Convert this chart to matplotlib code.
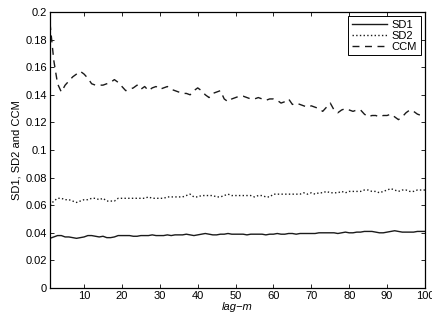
import matplotlib
matplotlib.use("Agg")
import matplotlib.pyplot as plt
import numpy as np

lag = list(range(1, 101))

sd1 = [0.036, 0.037, 0.038, 0.038, 0.037, 0.037, 0.0365, 0.036, 0.0365, 0.037,
       0.038, 0.038, 0.0375, 0.037, 0.0375, 0.0365, 0.0365, 0.037, 0.038, 0.038,
       0.038, 0.038, 0.0375, 0.0375, 0.038, 0.038, 0.038, 0.0385, 0.038, 0.038,
       0.038, 0.0385, 0.038, 0.0385, 0.0385, 0.0385, 0.039, 0.0385, 0.038, 0.0385,
       0.039, 0.0395, 0.039, 0.0385, 0.0385, 0.039, 0.039, 0.0395, 0.039, 0.039,
       0.039, 0.039, 0.0385, 0.039, 0.039, 0.039, 0.039, 0.0385, 0.039, 0.039,
       0.0395, 0.039, 0.039, 0.0395, 0.0395, 0.039, 0.0395, 0.0395, 0.0395, 0.0395,
       0.0395, 0.040, 0.040, 0.040, 0.040, 0.040, 0.0395, 0.040, 0.0405, 0.040,
       0.040, 0.0405, 0.0405, 0.041, 0.041, 0.041, 0.0405, 0.040, 0.040, 0.0405,
       0.041, 0.0415, 0.041, 0.0405, 0.0405, 0.0405, 0.0405, 0.041, 0.041, 0.041]

sd2 = [0.060, 0.063, 0.065, 0.065, 0.064, 0.064, 0.063, 0.062, 0.063, 0.064,
       0.064, 0.065, 0.065, 0.064, 0.065, 0.063, 0.063, 0.063, 0.065, 0.065,
       0.065, 0.065, 0.065, 0.065, 0.065, 0.065, 0.066, 0.065, 0.065, 0.065,
       0.065, 0.066, 0.066, 0.066, 0.066, 0.066, 0.067, 0.068, 0.066, 0.066,
       0.067, 0.067, 0.067, 0.067, 0.066, 0.066, 0.067, 0.068, 0.067, 0.067,
       0.067, 0.067, 0.067, 0.067, 0.066, 0.067, 0.067, 0.066, 0.066, 0.068,
       0.068, 0.068, 0.068, 0.068, 0.068, 0.068, 0.068, 0.069, 0.068, 0.069,
       0.068, 0.069, 0.069, 0.070, 0.069, 0.069, 0.069, 0.070, 0.069, 0.070,
       0.070, 0.070, 0.070, 0.071, 0.071, 0.070, 0.070, 0.069, 0.070, 0.071,
       0.072, 0.071, 0.070, 0.071, 0.071, 0.070, 0.070, 0.071, 0.071, 0.071]

ccm = [0.192, 0.165, 0.148, 0.142, 0.147, 0.150, 0.153, 0.155, 0.157, 0.155,
       0.152, 0.148, 0.147, 0.147, 0.147, 0.148, 0.149, 0.151, 0.149, 0.146,
       0.143, 0.144, 0.145, 0.147, 0.144, 0.146, 0.143, 0.145, 0.146, 0.144,
       0.145, 0.146, 0.144, 0.143, 0.142, 0.141, 0.141, 0.140, 0.143, 0.145,
       0.143, 0.140, 0.138, 0.141, 0.142, 0.143, 0.137, 0.135, 0.137, 0.138,
       0.139, 0.139, 0.138, 0.137, 0.137, 0.138, 0.137, 0.136, 0.137, 0.137,
       0.136, 0.134, 0.135, 0.137, 0.133, 0.134, 0.133, 0.132, 0.131, 0.132,
       0.131, 0.130, 0.128, 0.131, 0.134, 0.129, 0.127, 0.129, 0.130, 0.129,
       0.128, 0.129, 0.129, 0.126, 0.124, 0.125, 0.125, 0.124, 0.125, 0.125,
       0.126, 0.124, 0.122, 0.124, 0.127, 0.129, 0.128, 0.126, 0.125, 0.125]

xticks = [10, 20, 30, 40, 50, 60, 70, 80, 90, 100]
yticks = [0, 0.02, 0.04, 0.06, 0.08, 0.1, 0.12, 0.14, 0.16, 0.18, 0.2]
ytick_labels = ["0", "0.02", "0.04", "0.06", "0.08", "0.1", "0.12", "0.14", "0.16", "0.18", "0.2"]

plt.rcParams['font.family'] = ['Liberation Sans', 'DejaVu Sans']

fig = plt.figure(figsize=(4.32, 3.18), dpi=100)
ax = fig.add_axes([0.1157, 0.0943, 0.868, 0.868])

ax.plot(lag, sd1, color='#1a1a1a', linestyle='-', linewidth=1.0, label='SD1')
ax.plot(lag, sd2, color='#1a1a1a', linestyle=':', linewidth=1.0, label='SD2')
ax.plot(lag, ccm, color='#1a1a1a', linestyle=(0, (5, 4)), linewidth=1.0, label='CCM')

ax.set_xlim(1, 100)
ax.set_ylim(0, 0.2)
ax.set_xticks(xticks)
ax.set_yticks(yticks)
ax.set_yticklabels(ytick_labels)
ax.tick_params(direction='in', top=True, right=True, labelsize=8, length=3, width=0.6, pad=2)
for s in ax.spines.values():
    s.set_linewidth(0.9)

ax.set_xlabel('lag\u2212m', style='italic', fontsize=8, labelpad=1)
ax.set_ylabel('SD1, SD2 and CCM', fontsize=8, labelpad=3)

leg = ax.legend(loc='upper right', fontsize=8, fancybox=False, edgecolor='black',
                framealpha=1, handlelength=3.2, borderpad=0.3, labelspacing=0.1,
                handletextpad=0.4, borderaxespad=0.4)
leg.get_frame().set_linewidth(0.7)

fig.savefig('out.png', dpi=100)
